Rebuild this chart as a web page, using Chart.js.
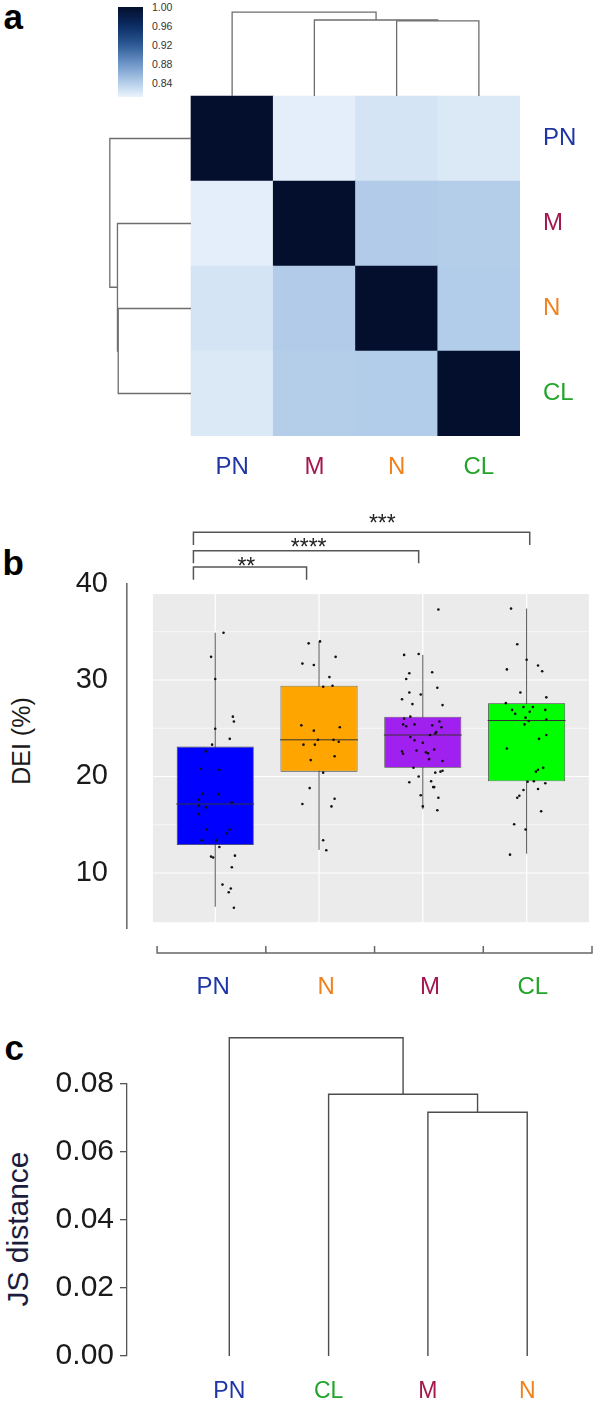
<!DOCTYPE html>
<html>
<head>
<meta charset="utf-8">
<script src="https://cdn.jsdelivr.net/npm/chart.js@4.4.1/dist/chart.umd.min.js"></script>
<style>
  html, body { margin: 0; padding: 0; background: #fff; }
  body { width: 596px; height: 1405px; position: relative; overflow: hidden;
         font-family: "Liberation Sans", Arial, sans-serif; }
  .box { position: absolute; left: 0; }
  .txt { position: absolute; white-space: nowrap; line-height: 1; }
  .letter { font-weight: bold; font-size: 35px; color: #000; }
  .rot { transform: translate(-50%, -50%) rotate(-90deg); }
  .cb { font-size: 10.5px; color: #333; transform: translateY(-50%); }
  #cbar { position: absolute; left: 118px; top: 7px; width: 25px; height: 90px; }
</style>
</head>
<body>

<div class="txt letter" style="left:3.5px; top:-1px">a</div>
<div class="txt letter" style="left:2.5px; top:545.4px">b</div>
<div class="txt letter" style="left:4.5px; top:1030.4px">c</div>

<div id="cbar"></div>
<div id="cbLabels"></div>

<div class="txt rot" style="left:20.5px; top:741px; font-size:25px; color:#1a1a1a">DEI (%)</div>
<div class="txt rot" style="left:18px; top:1229px; font-size:30px; color:#1e1c3d">JS distance</div>

<div class="box" style="top:0; width:596px; height:500px"><canvas id="chartA" width="596" height="500"></canvas></div>
<div class="box" style="top:500px; width:596px; height:520px"><canvas id="chartB" width="596" height="520"></canvas></div>
<div class="box" style="top:1020px; width:596px; height:385px"><canvas id="chartC" width="596" height="385"></canvas></div>

<script>
// ---------------------------------------------------------
// DATA
// ---------------------------------------------------------
// panel a: similarity matrix, rows/cols in heatmap order
const heatNames = ['PN', 'M', 'N', 'CL'];
const simPN = [1.000, 0.815, 0.823, 0.819];
const simM  = [0.815, 1.000, 0.842, 0.840];
const simN  = [0.823, 0.842, 1.000, 0.841];
const simCL = [0.819, 0.840, 0.841, 1.000];
const colorbarTicks = [1.00, 0.96, 0.92, 0.88, 0.84];
const colorbarRange = [0.81, 1.00];
// same clustering for rows and columns
const treeA = { h: 0.987, l: 'PN', r: { h: 0.894, l: 'M', r: { h: 0.885, l: 'N', r: 'CL' } } };

// panel b: DEI (%) box plots
const groupsB = ['PN', 'N', 'M', 'CL'];
const whiskLoB = [6.5, 12.4, 16.6, 12.0];
const q1B      = [12.9, 20.5, 20.9, 19.5];
const medianB  = [17.15, 23.8, 24.3, 25.8];
const q3B      = [23.1, 29.4, 26.2, 27.6];
const whiskHiB = [34.9, 34.0, 32.6, 37.4];
const yTicksB = [10, 20, 30, 40];
// jittered samples: [jitter, DEI]
const ptsPN = [[0.08,34.9],[-0.04,32.4],[0,30.1],[0.17,26.2],[0.18,25.7],[0,24.95],[0.14,23.9],[-0.03,23.3],
  [-0.09,22.6],[-0.14,20.8],[0.04,20.7],[-0.12,18.2],[0.03,18.15],[-0.16,17.6],[0.16,17.3],[-0.16,17.0],
  [-0.09,16.8],[-0.16,16.1],[-0.08,14.5],[0.14,14.5],[0.11,14.1],[-0.13,13.4],[0.01,13.4],[0.04,12.7],
  [-0.04,11.7],[-0.02,11.6],[0.19,11.8],[0.16,10.6],[0.07,8.8],[0.15,8.4],[0.13,8.0],[0.18,6.4]];
const ptsN = [[-0.10,33.8],[0.01,34.0],[-0.16,31.7],[-0.05,31.55],[0.16,32.4],[0.10,30.3],[0.04,29.3],
  [0.13,29.4],[-0.17,25.3],[-0.05,24.75],[0.20,25.1],[-0.15,23.3],[-0.04,23.3],[-0.01,23.8],[0.14,23.8],
  [0.19,23.6],[0.15,22.1],[-0.08,21.7],[0.04,20.4],[-0.09,18.8],[-0.16,17.15],[0.12,16.9],[0.15,17.7],
  [0.04,13.4],[0.07,12.35]];
const ptsM = [[0.15,37.3],[-0.18,32.6],[-0.04,32.7],[0.09,30.8],[-0.13,30.7],[-0.16,30.1],[0.14,29.2],
  [-0.13,28.7],[-0.02,28.5],[-0.20,28.0],[-0.10,27.5],[0.19,27.4],[-0.12,26.2],[-0.18,26.0],[-0.08,25.4],
  [-0.19,25.4],[-0.16,25.2],[0.09,25.3],[0.16,25.7],[0.18,25.1],[-0.12,24.1],[0.13,24.6],[0.12,24.45],
  [0.07,24.3],[-0.08,23.75],[0,23.5],[-0.20,22.6],[-0.19,22.35],[-0.06,22.7],[0.03,22.5],[0.05,22.4],
  [0.11,22.8],[0.06,21.8],[0.19,21.6],[-0.09,20.9],[0.17,20.5],[0.19,20.6],[0.12,20.4],[-0.04,20.0],
  [-0.13,19.4],[0.08,19.5],[0.10,18.9],[0.11,18.9],[-0.02,18.05],[0.15,17.8],[0,16.9],[0.14,16.5]];
const ptsCL = [[-0.15,37.4],[-0.09,33.7],[0,32.1],[-0.19,31.1],[0.11,31.5],[0.15,30.9],[-0.06,28.7],
  [0.19,28.2],[-0.20,27.6],[-0.14,26.9],[-0.11,26.5],[-0.03,27.2],[0.06,27.2],[0.03,26.7],[0.18,26.9],
  [-0.01,26.1],[0.02,25.75],[-0.02,25.4],[0.19,25.9],[0.12,23.9],[0.19,24.3],[-0.19,22.9],[0.16,20.9],
  [0.09,20.5],[0.11,20.7],[0.07,19.5],[0.01,19.45],[0.18,19.3],[-0.03,18.6],[0.11,18.7],[-0.07,18.0],
  [-0.09,17.8],[0.14,16.4],[-0.12,15.05],[-0.01,14.5],[-0.16,11.9]];
const ptsB = [ptsPN, ptsN, ptsM, ptsCL];
// significance brackets
const sigFrom  = [0.79, 0.79, 0.79];
const sigTo    = [1.88, 2.96, 4.03];
const sigY     = [41.7, 43.4, 45.3];
const sigText  = ['**', '****', '***'];
const sigTextX = [1.30, 1.90, 2.61];
const sigTextY = [42.4, 44.3, 46.8];

// panel c: JS distance dendrogram
const leavesC = ['PN', 'CL', 'M', 'N'];
const treeC = { h: 0.0936, l: 'PN', r: { h: 0.0770, l: 'CL', r: { h: 0.0717, l: 'M', r: 'N' } } };
const yTicksC = [0, 0.02, 0.04, 0.06, 0.08];

// ---------------------------------------------------------
// STYLE
// ---------------------------------------------------------
const FONT = '"Liberation Sans", Arial, sans-serif';
const nameColors = { PN: '#1f35a5', M: '#a3184f', N: '#f0821e', CL: '#22a52a' };
const boxColors = ['#0000ff', '#ffa500', '#a020f0', '#00ff00'];
const rampVals = [0.81, 0.84, 0.88, 0.92, 0.96, 1.00];
const rampRgb = [[236,244,253], [180,206,234], [110,150,200], [45,90,150], [12,45,100], [3,15,45]];

function rampColor(v) {
    if (v <= rampVals[0]) return `rgb(${rampRgb[0].join(',')})`;
    for (let i = 1; i < rampVals.length; i++) {
        if (v <= rampVals[i]) {
            const t = (v - rampVals[i - 1]) / (rampVals[i] - rampVals[i - 1]);
            const c = rampRgb[i - 1].map((a, k) => Math.round(a + (rampRgb[i][k] - a) * t));
            return `rgb(${c.join(',')})`;
        }
    }
    return `rgb(${rampRgb[rampRgb.length - 1].join(',')})`;
}

// dendrogram -> list of 4-point elbows (leaf coord, height)
function dendroSegments(tree, leaves, leafPos) {
    const segs = [];
    function walk(node) {
        if (typeof node === 'string') return { p: leafPos(leaves.indexOf(node)), h: 0 };
        const a = walk(node.l), b = walk(node.r);
        segs.push([[a.p, a.h], [a.p, node.h], [b.p, node.h], [b.p, b.h]]);
        return { p: (a.p + b.p) / 2, h: node.h };
    }
    walk(tree);
    return segs;
}

function lineSet(points, color, width, order) {
    return {
        type: 'line', data: points, borderColor: color, borderWidth: width,
        pointRadius: 0, fill: false, tension: 0, clip: false, order: order
    };
}

// keep fixed axis boxes, no extra label padding
function fixBox(size, horizontal) {
    return s => {
        if (horizontal) { s.height = size; s.paddingLeft = 0; s.paddingRight = 0; }
        else { s.width = size; s.paddingTop = 0; s.paddingBottom = 0; }
    };
}

const noLegend = { legend: { display: false }, tooltip: { enabled: false } };

// ---------------------------------------------------------
// COLOR BAR (legend of panel a)
// ---------------------------------------------------------
(function buildColorbar() {
    const [lo, hi] = colorbarRange;
    const stops = [];
    for (let i = 0; i <= 20; i++) {
        const v = hi - (hi - lo) * i / 20;
        stops.push(`${rampColor(v)} ${i * 5}%`);
    }
    document.getElementById('cbar').style.background = `linear-gradient(to bottom, ${stops.join(', ')})`;
    const holder = document.getElementById('cbLabels');
    colorbarTicks.forEach(v => {
        const d = document.createElement('div');
        d.className = 'txt cb';
        d.style.left = '152px';
        d.style.top = (7 + (hi - v) / (hi - lo) * 90) + 'px';
        d.textContent = v.toFixed(2);
        holder.appendChild(d);
    });
})();

// ---------------------------------------------------------
// PANEL A: heatmap + dendrograms
// ---------------------------------------------------------
const simRows = [simPN, simM, simN, simCL];
const cells = [], cellColors = [];
simRows.forEach((row, r) => row.forEach((v, c) => {
    cells.push({ x: c + 0.5, y: [r, r + 1] });
    cellColors.push(rampColor(v));
}));

const segsA = dendroSegments(treeA, heatNames, i => i + 0.5);
const dendroColA = '#6e6e6e';
const datasetsA = [{
    type: 'bar', data: cells, backgroundColor: cellColors, borderWidth: 0,
    barPercentage: 1, categoryPercentage: 1, order: 10
}];
segsA.forEach(s => {
    datasetsA.push(lineSet(s.map(p => ({ x: p[0], y: -p[1] })), dendroColA, 1.3, 1));  // top
    datasetsA.push(lineSet(s.map(p => ({ x: -p[1], y: p[0] })), dendroColA, 1.3, 1));  // left
});

new Chart(document.getElementById('chartA'), {
    type: 'bar',
    data: { datasets: datasetsA },
    options: {
        responsive: false, animation: false, events: [],
        layout: { padding: { left: 108.75, top: 11, right: 0, bottom: 0 } },
        plugins: noLegend,
        scales: {
            x: {
                type: 'linear', min: -1, max: 4, offset: false,
                grid: { display: false, drawTicks: false }, border: { display: false },
                afterBuildTicks: s => { s.ticks = heatNames.map((n, i) => ({ value: i + 0.5 })); },
                afterFit: fixBox(64, true),
                ticks: {
                    autoSkip: false, maxRotation: 0, padding: 16.6,
                    font: { family: FONT, size: 24 },
                    color: ctx => nameColors[heatNames[ctx.index]],
                    callback: (v, i) => heatNames[i]
                }
            },
            y: {
                type: 'linear', position: 'right', reverse: true, min: -1, max: 4,
                grid: { display: false, drawTicks: false }, border: { display: false },
                afterBuildTicks: s => { s.ticks = heatNames.map((n, i) => ({ value: i + 0.5 })); },
                afterFit: fixBox(76, false),
                ticks: {
                    autoSkip: false, padding: 23,
                    font: { family: FONT, size: 24 },
                    color: ctx => nameColors[heatNames[ctx.index]],
                    callback: (v, i) => heatNames[i]
                }
            }
        }
    }
});

// ---------------------------------------------------------
// PANEL B: box plots with jitter
// ---------------------------------------------------------
const panelXB = [0.4, 4.6];
const panelYB = [4.9, 38.9];
const bAxisEdges = [0.44, 1.4875, 2.535, 3.5825, 4.63];
const bLabelPos = [0.98, 2.07, 3.07, 4.06];
const bAxisY = 1.71, bAxisTickTop = 2.43, sigDrop = 1.3;

const panelBg = {
    id: 'panelBg',
    beforeDatasetsDraw(chart) {
        const { ctx, scales: { x, y } } = chart;
        const l = x.getPixelForValue(panelXB[0]), r = x.getPixelForValue(panelXB[1]);
        const t = y.getPixelForValue(panelYB[1]), b = y.getPixelForValue(panelYB[0]);
        ctx.save();
        ctx.fillStyle = '#ebebeb';
        ctx.fillRect(l, t, r - l, b - t);
        ctx.strokeStyle = '#ffffff';
        [15, 25, 35].forEach(v => {
            const py = y.getPixelForValue(v);
            ctx.lineWidth = 0.6; ctx.beginPath(); ctx.moveTo(l, py); ctx.lineTo(r, py); ctx.stroke();
        });
        [10, 20, 30].forEach(v => {
            const py = y.getPixelForValue(v);
            ctx.lineWidth = 1.2; ctx.beginPath(); ctx.moveTo(l, py); ctx.lineTo(r, py); ctx.stroke();
        });
        groupsB.forEach((g, i) => {
            const px = x.getPixelForValue(i + 1);
            ctx.lineWidth = 1.2; ctx.beginPath(); ctx.moveTo(px, t); ctx.lineTo(px, b); ctx.stroke();
        });
        ctx.restore();
    },
    afterDatasetsDraw(chart) {
        const { ctx, scales: { x, y } } = chart;
        ctx.save();
        ctx.font = `23px ${FONT}`;
        ctx.fillStyle = '#222';
        ctx.textAlign = 'center';
        ctx.textBaseline = 'alphabetic';
        sigText.forEach((t, i) => {
            ctx.fillText(t, x.getPixelForValue(sigTextX[i]), y.getPixelForValue(sigTextY[i]) + 13.2);
        });
        ctx.restore();
    }
};

const datasetsB = [];
// jitter points
const allPts = [];
ptsB.forEach((pts, i) => pts.forEach(p => allPts.push({ x: i + 1 + p[0], y: p[1] })));
datasetsB.push({
    type: 'scatter', data: allPts, pointRadius: 1.3, pointBackgroundColor: '#111',
    pointBorderWidth: 0, order: 0
});
// medians
groupsB.forEach((g, i) => {
    datasetsB.push(lineSet([{ x: i + 1 - 0.375, y: medianB[i] }, { x: i + 1 + 0.375, y: medianB[i] }], '#333', 1, 1));
});
// boxes
datasetsB.push({
    type: 'bar',
    data: groupsB.map((g, i) => ({ x: i + 1, y: [q1B[i], q3B[i]] })),
    backgroundColor: boxColors, borderColor: '#3a3a3a', borderWidth: 0.8, borderSkipped: false,
    barPercentage: 0.75, categoryPercentage: 1, order: 2
});
// whiskers
groupsB.forEach((g, i) => {
    datasetsB.push(lineSet([{ x: i + 1, y: whiskLoB[i] }, { x: i + 1, y: whiskHiB[i] }], '#555', 1, 3));
});
// significance brackets
sigText.forEach((t, i) => {
    datasetsB.push(lineSet([
        { x: sigFrom[i], y: sigY[i] - sigDrop }, { x: sigFrom[i], y: sigY[i] },
        { x: sigTo[i], y: sigY[i] }, { x: sigTo[i], y: sigY[i] - sigDrop }
    ], '#555', 1.5, 4));
});
// bracket-style x axis
const axisPts = [];
bAxisEdges.forEach((e, i) => {
    if (i > 0) axisPts.push({ x: e, y: bAxisY });
    axisPts.push({ x: e, y: bAxisTickTop }, { x: e, y: bAxisY });
});
datasetsB.push(lineSet(axisPts, '#666', 1.5, 4));

new Chart(document.getElementById('chartB'), {
    type: 'bar',
    data: { datasets: datasetsB },
    plugins: [panelBg],
    options: {
        responsive: false, animation: false, events: [],
        layout: { padding: { left: 0, top: 83.5, right: 4, bottom: 0 } },
        plugins: noLegend,
        scales: {
            x: {
                type: 'linear', min: 0.15, max: 4.63, offset: false,
                grid: { display: false, drawTicks: false }, border: { display: false },
                afterBuildTicks: s => { s.ticks = bLabelPos.map(v => ({ value: v })); },
                afterFit: fixBox(92, true),
                ticks: {
                    autoSkip: false, maxRotation: 0, padding: 44.6,
                    font: { family: FONT, size: 24 },
                    color: ctx => nameColors[groupsB[ctx.index]],
                    callback: (v, i) => groupsB[i]
                }
            },
            y: {
                type: 'linear', min: 4.3, max: 40,
                grid: { display: false, drawTicks: false },
                border: { display: true, color: '#6e6e6e', width: 1.6 },
                afterBuildTicks: s => { s.ticks = yTicksB.map(v => ({ value: v })); },
                afterFit: fixBox(127, false),
                ticks: { padding: 19, color: '#1a1a1a', font: { family: FONT, size: 29 } }
            }
        }
    }
});

// ---------------------------------------------------------
// PANEL C: JS distance dendrogram
// ---------------------------------------------------------
const segsC = dendroSegments(treeC, leavesC, i => i + 1);
const datasetsC = segsC.map(s => lineSet(s.map(p => ({ x: p[0], y: p[1] })), '#4d4d4d', 1.4, 1));

new Chart(document.getElementById('chartC'), {
    type: 'line',
    data: { datasets: datasetsC },
    options: {
        responsive: false, animation: false, events: [],
        layout: { padding: { left: 0, top: 64, right: 9.2, bottom: 0 } },
        plugins: noLegend,
        scales: {
            x: {
                type: 'linear', min: -0.03, max: 4.6, offset: false,
                grid: { display: false, drawTicks: false }, border: { display: false },
                afterBuildTicks: s => { s.ticks = leavesC.map((n, i) => ({ value: i + 1 })); },
                afterFit: fixBox(49, true),
                ticks: {
                    autoSkip: false, maxRotation: 0, padding: 21.6,
                    font: { family: FONT, size: 23 },
                    color: ctx => nameColors[leavesC[ctx.index]],
                    callback: (v, i) => leavesC[i]
                }
            },
            y: {
                type: 'linear', min: 0, max: 0.08,
                grid: { display: true, drawOnChartArea: false, drawTicks: true, tickLength: 7, color: '#555', lineWidth: 1.3 },
                border: { display: true, color: '#555', width: 1.3 },
                afterBuildTicks: s => { s.ticks = yTicksC.map(v => ({ value: v })); },
                afterFit: fixBox(127, false),
                ticks: {
                    padding: 6, color: '#1a1a1a', font: { family: FONT, size: 30 },
                    callback: v => v.toFixed(2)
                }
            }
        }
    }
});
</script>
</body>
</html>
